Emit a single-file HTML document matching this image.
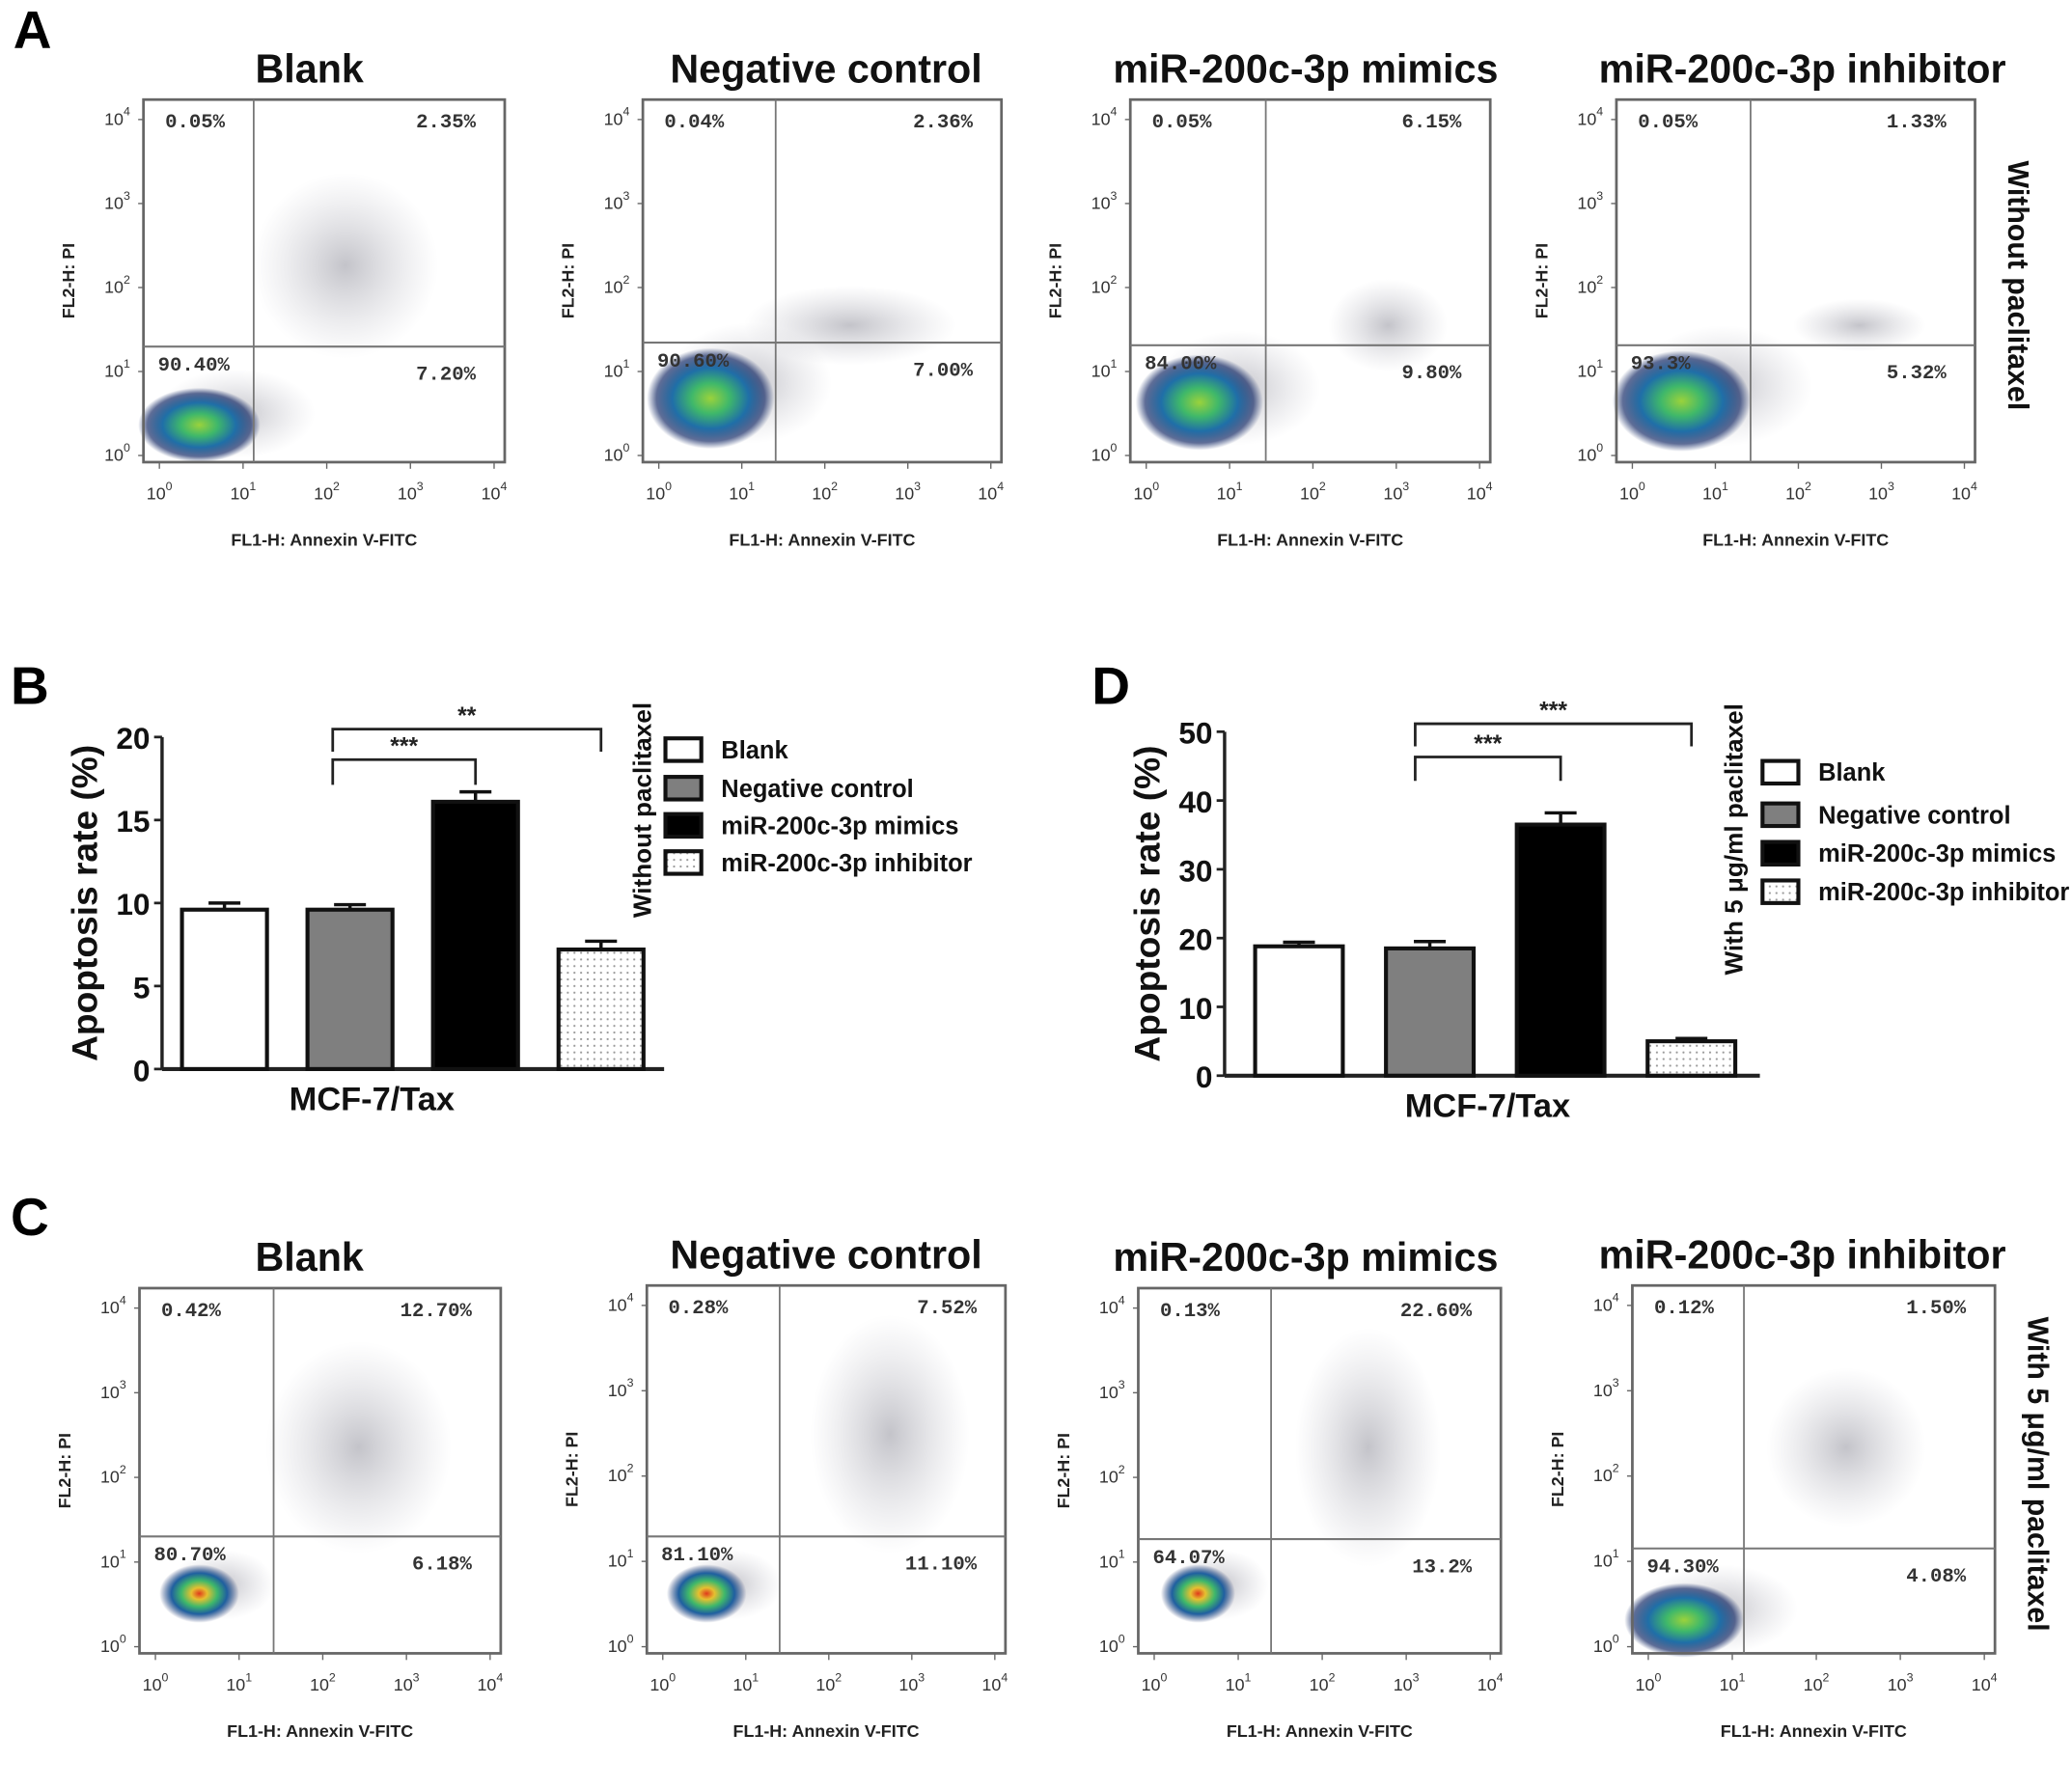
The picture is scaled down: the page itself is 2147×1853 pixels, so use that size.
<!DOCTYPE html>
<html><head><meta charset="utf-8"><style>
html,body{margin:0;padding:0;background:#fff}
svg{display:block}
text{font-family:"Liberation Sans",Arial,sans-serif}
.pct{font-family:"Liberation Mono","DejaVu Sans Mono",monospace;font-weight:bold;font-size:15px;fill:#333}
.ttl{font-weight:bold;font-size:30px;fill:#111}
.tk{font-size:13px;fill:#333}
.ax{font-weight:bold;font-size:13px;fill:#222}
</style></head><body>
<svg id="fig" width="2147" height="1853" viewBox="0 0 1560 1346.4" xmlns="http://www.w3.org/2000/svg">
<defs>
<radialGradient id="core" cx="50%" cy="50%" r="50%">
<stop offset="0" stop-color="#9ad23c"/><stop offset="0.3" stop-color="#3fb86a"/><stop offset="0.6" stop-color="#1f6fa8"/><stop offset="0.85" stop-color="#1a2f6a" stop-opacity="0.7"/><stop offset="1" stop-color="#1a2f6a" stop-opacity="0"/>
</radialGradient>
<radialGradient id="coreR" cx="50%" cy="50%" r="50%">
<stop offset="0" stop-color="#e03a1c"/><stop offset="0.2" stop-color="#e6c030"/><stop offset="0.45" stop-color="#3fb86a"/><stop offset="0.7" stop-color="#1f5fa0"/><stop offset="1" stop-color="#1a2f6a" stop-opacity="0"/>
</radialGradient>
<radialGradient id="haze" cx="50%" cy="50%" r="50%">
<stop offset="0" stop-color="#556" stop-opacity="0.35"/><stop offset="1" stop-color="#889" stop-opacity="0"/>
</radialGradient>
<pattern id="dots" width="5" height="5" patternUnits="userSpaceOnUse"><rect width="5" height="5" fill="#fff"/><circle cx="2.5" cy="2.5" r="0.8" fill="#999"/></pattern>
</defs>
<g id="root"></g>
</svg>
<script>
// ---- Bar chart data ----
const groups = ["Blank","Negative control","miR-200c-3p mimics","miR-200c-3p inhibitor"];
const bValues = [9.6, 9.6, 16.1, 7.2];
const bErrors = [0.4, 0.3, 0.6, 0.5];
const bTicks = [0,5,10,15,20];
const dValues = [18.8, 18.5, 36.5, 5.0];
const dErrors = [0.6, 1.0, 1.7, 0.4];
const dTicks = [0,10,20,30,40,50];
// ---- Flow cytometry quadrant percentages [UL, UR, LL, LR] ----
const pctA = [["0.05%","2.35%","90.40%","7.20%"],["0.04%","2.36%","90.60%","7.00%"],["0.05%","6.15%","84.00%","9.80%"],["0.05%","1.33%","93.3%","5.32%"]];
const pctC = [["0.42%","12.70%","80.70%","6.18%"],["0.28%","7.52%","81.10%","11.10%"],["0.13%","22.60%","64.07%","13.2%"],["0.12%","1.50%","94.30%","4.08%"]];
const logTicks = ["0","1","2","3","4"];

const NS="http://www.w3.org/2000/svg";
const root=document.getElementById('root');
function el(tag,attrs,parent,txt){const e=document.createElementNS(NS,tag);for(const k in attrs)e.setAttribute(k,attrs[k]);if(txt!==undefined)e.textContent=txt;(parent||root).appendChild(e);return e;}

function letter(t,x,y){const e=el('text',{x:x,y:y,'font-size':40,'font-weight':'bold',fill:'#000'},root,t);

}
letter('A',10,36);letter('B',8,530);letter('C',8,930);letter('D',822,530);

const flowA=[{x0:108,y0:75,x1:380,y1:348,v:191,h:261,tx:233,blob:[150,320,46,28,'core']},
{x0:484,y0:75,x1:754,y1:348,v:584,h:258,tx:622,blob:[535,300,48,38,'core']},
{x0:851,y0:75,x1:1122,y1:348,v:953,h:260,tx:983,blob:[903,303,48,36,'core']},
{x0:1217,y0:75,x1:1487,y1:348,v:1318,h:260,tx:1357,blob:[1266,302,52,38,'core']}];
const flowC=[{x0:105,y0:970,x1:377,y1:1245,v:206,h:1157,tx:233,blob:[150,1200,30,22,'coreR']},
{x0:487,y0:968,x1:757,y1:1245,v:587,h:1157,tx:622,blob:[532,1200,30,22,'coreR']},
{x0:857,y0:970,x1:1130,y1:1245,v:957,h:1159,tx:983,blob:[902,1200,28,22,'coreR']},
{x0:1229,y0:968,x1:1502,y1:1245,v:1313,h:1166,tx:1357,blob:[1268,1220,45,28,'core']}];
const hazeA=[[260,200,70,70],[640,245,80,30],[1045,245,45,35],[1400,245,50,20]];
const hazeC=[[270,1090,70,80],[670,1080,60,90],[1030,1090,55,90],[1390,1090,60,60]];

function flow(p,pct,title,idx,hz,panel){
 const g=el('g',{});
 
 
 const t=el('text',{x:p.tx,y:p.y0-13,'text-anchor':'middle',class:'ttl'},g,title);
 
 
 el('ellipse',{cx:hz[0],cy:hz[1],rx:hz[2],ry:hz[3],fill:'url(#haze)'},g);
 const b=p.blob;
 el('ellipse',{cx:b[0]+b[2]*0.6,cy:b[1]-b[3]*0.3,rx:b[2]*1.3,ry:b[3]*1.2,fill:'url(#haze)'},g);
 el('ellipse',{cx:b[0],cy:b[1],rx:b[2],ry:b[3],fill:'url(#'+b[4]+')'},g);
 el('rect',{x:p.x0,y:p.y0,width:p.x1-p.x0,height:p.y1-p.y0,fill:'none',stroke:'#666','stroke-width':2},g);
 el('line',{x1:p.v,y1:p.y0,x2:p.v,y2:p.y1,stroke:'#777','stroke-width':1.3},g);
 el('line',{x1:p.x0,y1:p.h,x2:p.x1,y2:p.h,stroke:'#777','stroke-width':1.5},g);
 const W=p.x1-p.x0,H=p.y1-p.y0;
 const q=[[p.x0+W*0.06,p.y0+21,'start'],[p.x1-W*0.08,p.y0+21,'end'],[p.x0+W*0.04,p.h+18,'start'],[p.x1-W*0.08,p.h+25,'end']];
 pct.forEach((s,i)=>{const e=el('text',{x:q[i][0],y:q[i][1],'text-anchor':q[i][2],class:'pct'},g,s);
  
  });
 logTicks.forEach((s,i)=>{
  const xx=p.x0+12+(W-20)*i/4, yy=p.y1-5-(H-20)*i/4;
  const a=el('text',{x:xx,y:p.y1+28,'text-anchor':'middle',class:'tk'},g);
  a.innerHTML='10<tspan dy="-7" font-size="9">'+s+'</tspan>';
  const c=el('text',{x:p.x0-10,y:yy+4,'text-anchor':'end',class:'tk'},g);
  c.innerHTML='10<tspan dy="-7" font-size="9">'+s+'</tspan>';
  el('line',{x1:xx,y1:p.y1,x2:xx,y2:p.y1+5,stroke:'#666'},g);
  el('line',{x1:p.x0-4,y1:yy,x2:p.x0,y2:yy,stroke:'#666'},g);
 });
 const xl=el('text',{x:(p.x0+p.x1)/2,y:p.y1+63,'text-anchor':'middle',class:'ax'},g,'FL1-H: Annexin V-FITC');
 
 
 const yl=el('text',{x:0,y:0,'text-anchor':'middle',class:'ax',transform:'translate('+(p.x0-52)+','+(p.y0+H*0.5)+') rotate(-90)'},g,'FL2-H: PI');
 
 
}
flowA.forEach((p,i)=>flow(p,pctA[i],groups[i],i,hazeA[i],'a'));
flowC.forEach((p,i)=>flow(p,pctC[i],groups[i],i,hazeC[i],'c'));
function vtext(t,x,y,name){const e=el('text',{x:0,y:0,'text-anchor':'middle','font-weight':'bold','font-size':22,fill:'#111',transform:'translate('+x+','+y+') rotate(90)'},root,t);
 
 }
vtext('Without paclitaxel',1512,215,'condition-label-a');
vtext('With 5 μg/ml paclitaxel',1527,1110,'condition-label-c');

const fills=['#fff','#7f7f7f','#000','url(#dots)'];
function bar(cfg,vals,errs,ticks,brackets,condition,panel){
 const g=el('g',{});
 
 
 const max=ticks[ticks.length-1];
 const ys=v=>cfg.y0-(cfg.y0-cfg.yTop)*v/max;
 const xs=i=>cfg.bx0+i*cfg.step;
 el('line',{x1:cfg.ax,y1:cfg.yTop,x2:cfg.ax,y2:cfg.y0,stroke:'#222','stroke-width':2.5},g);
 el('line',{x1:cfg.ax,y1:cfg.y0,x2:cfg.axEnd,y2:cfg.y0,stroke:'#222','stroke-width':3},g);
 ticks.forEach(t=>{el('line',{x1:cfg.ax-6,y1:ys(t),x2:cfg.ax,y2:ys(t),stroke:'#222','stroke-width':2},g);
  const e=el('text',{x:cfg.ax-9,y:ys(t)+9,'text-anchor':'end','font-size':23,'font-weight':'bold',fill:'#111'},g,String(t));
  
  });
 vals.forEach((v,i)=>{
  const x=xs(i);
  el('line',{x1:x+cfg.bw/2,y1:ys(v),x2:x+cfg.bw/2,y2:ys(v+errs[i]),stroke:'#111','stroke-width':2.5},g);
  el('line',{x1:x+cfg.bw/2-12,y1:ys(v+errs[i]),x2:x+cfg.bw/2+12,y2:ys(v+errs[i]),stroke:'#111','stroke-width':2.5},g);
  const r=el('rect',{x:x,y:ys(v),width:cfg.bw,height:cfg.y0-ys(v),fill:fills[i],stroke:'#111','stroke-width':3},g);
  
  
 });
 brackets.forEach(bk=>{
  const xa=xs(bk[0])+cfg.bw/2+bk[4], xb=xs(bk[1])+cfg.bw/2;
  el('polyline',{points:xa+','+bk[3]+' '+xa+','+bk[2]+' '+xb+','+bk[2]+' '+xb+','+bk[3],fill:'none',stroke:'#222','stroke-width':2},g);
  const s=el('text',{x:(xa+xb)/2,y:bk[2]-4,'text-anchor':'middle','font-size':18,'font-weight':'bold',fill:'#222'},g,bk[5]);
  
  
 });
 const yl=el('text',{x:0,y:0,'text-anchor':'middle','font-size':27,'font-weight':'bold',fill:'#111',transform:'translate('+cfg.ylx+','+((cfg.yTop+cfg.y0)/2)+') rotate(-90)'},g,'Apoptosis rate (%)');
 
 
 const xl=el('text',{x:cfg.xlx,y:cfg.y0+31,'text-anchor':'middle','font-size':25,'font-weight':'bold',fill:'#111'},g,'MCF-7/Tax');
 
 
 const ct=el('text',{x:0,y:0,'text-anchor':'middle','font-size':19,'font-weight':'bold',fill:'#111',transform:'translate('+cfg.cx+','+cfg.cy+') rotate(-90)'},g,condition);
 
 
 groups.forEach((n,i)=>{
  const y=cfg.legY[i];
  const lg=el('g',{},g);
  
  
  el('rect',{x:cfg.legX,y:y-8,width:27,height:17,fill:fills[i],stroke:'#111','stroke-width':3},lg);
  el('text',{x:cfg.legX+42,y:y+7,'font-size':18.5,'font-weight':'bold',fill:'#111'},lg,n);
 });
}
bar({ax:122,axEnd:500,y0:805,yTop:555,bx0:137,step:94.5,bw:64,ylx:73,xlx:280,cx:490,cy:610,legX:501,legY:[564,593,621,649]},
 bValues,bErrors,bTicks,[[1,2,572,591,-13,'***'],[1,3,549,566,-13,'**']],'Without paclitaxel','b');
bar({ax:922,axEnd:1325,y0:810,yTop:551,bx0:945,step:98.5,bw:66,ylx:873,xlx:1120,cx:1312,cy:632,legX:1327,legY:[581,613,642,671]},
 dValues,dErrors,dTicks,[[1,2,570,588,-11,'***'],[1,3,545,562,-11,'***']],'With 5 μg/ml paclitaxel','d');
</script>
</body></html>
